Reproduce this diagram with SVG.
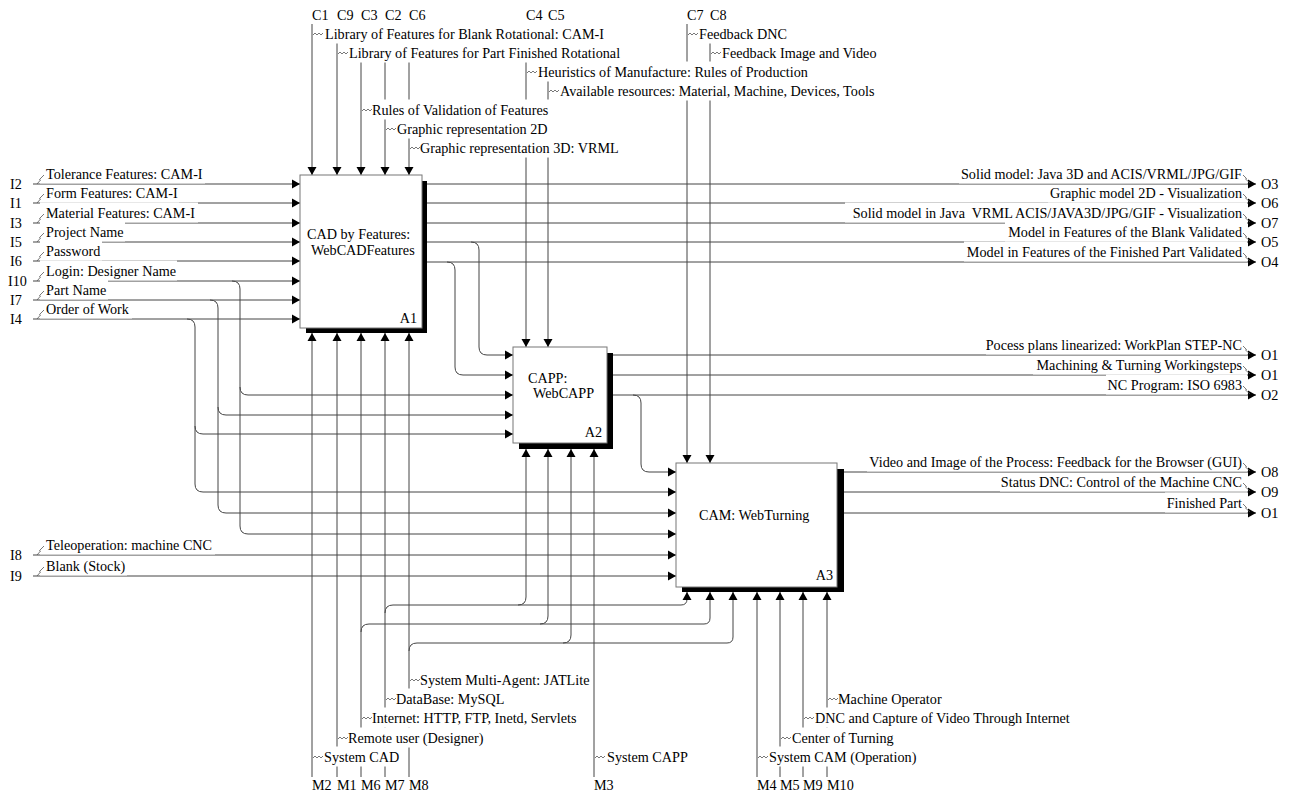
<svg xmlns="http://www.w3.org/2000/svg" width="1292" height="796" viewBox="0 0 1292 796">
<style>
.ln{fill:none;stroke:#444;stroke-width:1}
.sq{fill:none;stroke:#555;stroke-width:0.8}
.t{font-family:"Liberation Serif","Times New Roman",serif;font-size:14.2px;fill:#000}
.e{text-anchor:end}
.bg{fill:#fff}
.box{fill:#fff;stroke:#777;stroke-width:1}
.sh{fill:#000}
</style>
<defs>
<marker id="ah" markerUnits="userSpaceOnUse" markerWidth="8" markerHeight="10" viewBox="0 0 8 10" refX="8" refY="5" orient="auto"><path d="M0,0.5L8,5L0,9.5z" fill="#000"/></marker>
</defs>
<rect width="1292" height="796" fill="#fff"/>

<g id="connectors" class="ln" marker-end="url(#ah)">
<!-- inputs to A1 -->
<path d="M33,184H300"/><path d="M33,203H300"/><path d="M33,223H300"/><path d="M33,242H300"/>
<path d="M33,261H300"/><path d="M33,281H300"/><path d="M33,300H300"/><path d="M33,319H300"/>
<!-- branches of I10, I7, I4 -->
<path d="M232,281Q240,281 240,289V526Q240,534 248,534H676"/>
<path d="M240,387Q240,395 248,395H513"/>
<path d="M210,300Q218,300 218,308V505Q218,513 226,513H676"/>
<path d="M218,407Q218,415 226,415H513"/>
<path d="M187,319Q195,319 195,327V484Q195,492 203,492H676"/>
<path d="M195,426Q195,434 203,434H513"/>
<path d="M33,555H676"/><path d="M33,576H676"/>
<!-- A1 outputs -->
<path d="M427,184H1256"/><path d="M427,203H1256"/><path d="M427,223H1256"/><path d="M427,242H1256"/><path d="M427,262H1256"/>
<path d="M471,242Q479,242 479,250V347Q479,355 487,355H513"/>
<path d="M447,262Q455,262 455,270V367Q455,375 463,375H513"/>
<!-- A2 outputs -->
<path d="M612,355H1256"/><path d="M612,375H1256"/><path d="M612,395H1256"/>
<path d="M633,395Q641,395 641,403V464Q641,472 649,472H676"/>
<!-- A3 outputs -->
<path d="M843,472H1256"/><path d="M843,492H1256"/><path d="M843,513H1256"/>
<!-- controls -->
<path d="M312,24V175"/><path d="M337,24V175"/><path d="M361,24V175"/><path d="M385,24V175"/><path d="M409,24V175"/>
<path d="M526,24V347"/><path d="M548,24V347"/>
<path d="M687,24V463"/><path d="M710,24V463"/>
<!-- mechanisms -->
<path d="M312,777V333"/><path d="M337,777V333"/><path d="M361,777V333"/><path d="M385,777V333"/><path d="M409,777V333"/>
<path d="M594,777V449"/>
<path d="M757,777V592"/><path d="M780,777V592"/><path d="M803,777V592"/><path d="M827,777V592"/>
<path d="M385,613Q385,605 393,605H518Q526,605 526,597V449"/>
<path d="M518,605H681Q687,605 687,599V592"/>
<path d="M361,632Q361,624 369,624H540Q548,624 548,616V449"/>
<path d="M540,624H704Q710,624 710,618V592"/>
<path d="M409,651Q409,643 417,643H563Q571,643 571,635V449"/>
<path d="M563,643H727Q733,643 733,637V592"/>
</g>

<g id="labels">
<!-- control labels -->
<g><rect class="bg" x="313" y="23.5" width="293" height="20"/><path class="sq" d="M313,35l2,-2l2,2l2,-2l2,2l2,-2"/><text class="t" x="325" y="39">Library of Features for Blank Rotational: CAM-I</text></g>
<g><rect class="bg" x="338" y="42.5" width="283" height="20"/><path class="sq" d="M338,54l2,-2l2,2l2,-2l2,2l2,-2"/><text class="t" x="349" y="58">Library of Features for Part Finished Rotational</text></g>
<g><rect class="bg" x="527" y="61.5" width="283" height="20"/><path class="sq" d="M527,73l2,-2l2,2l2,-2l2,2l2,-2"/><text class="t" x="538" y="77">Heuristics of Manufacture: Rules of Production</text></g>
<g><rect class="bg" x="549" y="80.5" width="330" height="20"/><path class="sq" d="M549,92l2,-2l2,2l2,-2l2,2l2,-2"/><text class="t" x="560" y="96">Available resources: Material, Machine, Devices, Tools</text></g>
<g><rect class="bg" x="362" y="99.5" width="191" height="20"/><path class="sq" d="M362,111l2,-2l2,2l2,-2l2,2l2,-2"/><text class="t" x="372" y="115">Rules of Validation of Features</text></g>
<g><rect class="bg" x="386" y="118.5" width="166" height="20"/><path class="sq" d="M386,130l2,-2l2,2l2,-2l2,2l2,-2"/><text class="t" x="397" y="134">Graphic representation 2D</text></g>
<g><rect class="bg" x="410" y="137.5" width="211" height="20"/><path class="sq" d="M410,149l2,-2l2,2l2,-2l2,2l2,-2"/><text class="t" x="420" y="153">Graphic representation 3D: VRML</text></g>
<g><rect class="bg" x="688" y="23.5" width="102" height="20"/><path class="sq" d="M688,35l2,-2l2,2l2,-2l2,2l2,-2"/><text class="t" x="699" y="39">Feedback DNC</text></g>
<g><rect class="bg" x="711" y="42.5" width="170" height="20"/><path class="sq" d="M711,54l2,-2l2,2l2,-2l2,2l2,-2"/><text class="t" x="722" y="58">Feedback Image and Video</text></g>

<!-- mechanism labels -->
<g><rect class="bg" x="410" y="669.5" width="183" height="20"/><path class="sq" d="M410,681l2,-2l2,2l2,-2l2,2l2,-2"/><text class="t" x="420" y="685">System Multi-Agent: JATLite</text></g>
<g><rect class="bg" x="386" y="688.5" width="120" height="20"/><path class="sq" d="M386,700l2,-2l2,2l2,-2l2,2l2,-2"/><text class="t" x="396" y="704">DataBase: MySQL</text></g>
<g><rect class="bg" x="362" y="707.5" width="220" height="20"/><path class="sq" d="M362,719l2,-2l2,2l2,-2l2,2l2,-2"/><text class="t" x="372" y="723">Internet: HTTP, FTP, Inetd, Servlets</text></g>
<g><rect class="bg" x="338" y="727.5" width="148" height="20"/><path class="sq" d="M338,739l2,-2l2,2l2,-2l2,2l2,-2"/><text class="t" x="348" y="743">Remote user (Designer)</text></g>
<g><rect class="bg" x="313" y="746.5" width="89" height="20"/><path class="sq" d="M313,758l2,-2l2,2l2,-2l2,2l2,-2"/><text class="t" x="324" y="762">System CAD</text></g>
<g><rect class="bg" x="595" y="746.5" width="95" height="20"/><path class="sq" d="M595,758l2,-2l2,2l2,-2l2,2l2,-2"/><text class="t" x="607" y="762">System CAPP</text></g>
<g><rect class="bg" x="828" y="688.5" width="116" height="20"/><path class="sq" d="M828,700l2,-2l2,2l2,-2l2,2l2,-2"/><text class="t" x="838" y="704">Machine Operator</text></g>
<g><rect class="bg" x="804" y="707.5" width="270" height="20"/><path class="sq" d="M804,719l2,-2l2,2l2,-2l2,2l2,-2"/><text class="t" x="815" y="723">DNC and Capture of Video Through Internet</text></g>
<g><rect class="bg" x="781" y="727.5" width="116" height="20"/><path class="sq" d="M781,739l2,-2l2,2l2,-2l2,2l2,-2"/><text class="t" x="792" y="743">Center of Turning</text></g>
<g><rect class="bg" x="758" y="746.5" width="160" height="20"/><path class="sq" d="M758,758l2,-2l2,2l2,-2l2,2l2,-2"/><text class="t" x="769" y="762">System CAM (Operation)</text></g>

<!-- input labels -->
<g><rect class="bg" x="40" y="163.5" width="165" height="20"/><path class="sq" d="M37,184L40.5,180L39.5,179.5L44,175"/><text class="t" x="46" y="179">Tolerance Features: CAM-I</text></g>
<g><rect class="bg" x="40" y="185" width="139" height="17.5"/><path class="sq" d="M37,203L40.5,199L39.5,198.5L44,194"/><text class="t" x="46" y="198">Form Features: CAM-I</text></g>
<g><rect class="bg" x="40" y="202.5" width="158" height="20"/><path class="sq" d="M37,223L40.5,219L39.5,218.5L44,214"/><text class="t" x="46" y="218">Material Features: CAM-I</text></g>
<g><rect class="bg" x="40" y="221.5" width="85" height="20"/><path class="sq" d="M37,242L40.5,238L39.5,237.5L44,233"/><text class="t" x="46" y="237">Project Name</text></g>
<g><rect class="bg" x="40" y="240.5" width="62" height="20"/><path class="sq" d="M37,261L40.5,257L39.5,256.5L44,252"/><text class="t" x="46" y="256">Password</text></g>
<g><rect class="bg" x="40" y="260.5" width="137" height="20"/><path class="sq" d="M37,281L40.5,277L39.5,276.5L44,272"/><text class="t" x="46" y="276">Login: Designer Name</text></g>
<g><rect class="bg" x="40" y="279.5" width="68" height="20"/><path class="sq" d="M37,300L40.5,296L39.5,295.5L44,291"/><text class="t" x="46" y="295">Part Name</text></g>
<g><rect class="bg" x="40" y="301" width="92" height="17.5"/><path class="sq" d="M37,319L40.5,315L39.5,314.5L44,310"/><text class="t" x="46" y="314">Order of Work</text></g>
<g><rect class="bg" x="40" y="534.5" width="175" height="20"/><path class="sq" d="M37,555L40.5,551L39.5,550.5L44,546"/><text class="t" x="46" y="550">Teleoperation: machine CNC</text></g>
<g><rect class="bg" x="40" y="558" width="87" height="17.5"/><path class="sq" d="M37,576L40.5,572L39.5,571.5L44,567"/><text class="t" x="46" y="571">Blank (Stock)</text></g>

<!-- output labels -->
<g><rect class="bg" x="959" y="163.5" width="288" height="20"/><path class="sq" d="M1243,175L1246.5,178.5L1245.5,179L1250,183"/><text class="t e" x="1242" y="179">Solid model: Java 3D and ACIS/VRML/JPG/GIF</text></g>
<g><rect class="bg" x="1048" y="185" width="199" height="17.5"/><path class="sq" d="M1243,194L1246.5,197.5L1245.5,198L1250,202"/><text class="t e" x="1242" y="198">Graphic model 2D - Visualization</text></g>
<g><rect class="bg" x="845" y="202.5" width="402" height="20"/><path class="sq" d="M1243,214L1246.5,217.5L1245.5,218L1250,222"/><text class="t e" x="1242" y="218">Solid model in Java&#160; VRML ACIS/JAVA3D/JPG/GIF - Visualization</text></g>
<g><rect class="bg" x="1005" y="221.5" width="242" height="20"/><path class="sq" d="M1243,233L1246.5,236.5L1245.5,237L1250,241"/><text class="t e" x="1242" y="237">Model in Features of the Blank Validated</text></g>
<g><rect class="bg" x="964" y="241.5" width="283" height="20"/><path class="sq" d="M1243,253L1246.5,256.5L1245.5,257L1250,261"/><text class="t e" x="1242" y="257">Model in Features of the Finished Part Validated</text></g>
<g><rect class="bg" x="986" y="334.5" width="261" height="20"/><path class="sq" d="M1243,346L1246.5,349.5L1245.5,350L1250,354"/><text class="t e" x="1242" y="350">Pocess plans linearized: WorkPlan STEP-NC</text></g>
<g><rect class="bg" x="1033" y="357" width="214" height="17.5"/><path class="sq" d="M1243,366L1246.5,369.5L1245.5,370L1250,374"/><text class="t e" x="1242" y="370">Machining &amp; Turning Workingsteps</text></g>
<g><rect class="bg" x="1106" y="374.5" width="141" height="20"/><path class="sq" d="M1243,386L1246.5,389.5L1245.5,390L1250,394"/><text class="t e" x="1242" y="390">NC Program: ISO 6983</text></g>
<g><rect class="bg" x="867" y="451.5" width="380" height="20"/><path class="sq" d="M1243,463L1246.5,466.5L1245.5,467L1250,471"/><text class="t e" x="1242" y="467">Video and Image of the Process: Feedback for the Browser (GUI)</text></g>
<g><rect class="bg" x="1000" y="474" width="247" height="17.5"/><path class="sq" d="M1243,483L1246.5,486.5L1245.5,487L1250,491"/><text class="t e" x="1242" y="487">Status DNC: Control of the Machine CNC</text></g>
<g><rect class="bg" x="1165" y="492.5" width="82" height="20"/><path class="sq" d="M1243,504L1246.5,507.5L1245.5,508L1250,512"/><text class="t e" x="1242" y="508">Finished Part</text></g>

<!-- boundary IDs -->
<g class="t">
<text x="312" y="20">C1</text><text x="337" y="20">C9</text><text x="361" y="20">C3</text><text x="385" y="20">C2</text><text x="409" y="20">C6</text>
<text x="526" y="20">C4</text><text x="548" y="20">C5</text><text x="687" y="20">C7</text><text x="710" y="20">C8</text>
<text x="312" y="790">M2</text><text x="337" y="790">M1</text><text x="361" y="790">M6</text><text x="385" y="790">M7</text><text x="409" y="790">M8</text>
<text x="594" y="790">M3</text><text x="757" y="790">M4</text><text x="780" y="790">M5</text><text x="803" y="790">M9</text><text x="827" y="790">M10</text>
<text x="10" y="189">I2</text><text x="10" y="208">I1</text><text x="10" y="228">I3</text><text x="10" y="247">I5</text>
<text x="10" y="266">I6</text><text x="8" y="286">I10</text><text x="10" y="305">I7</text><text x="10" y="324">I4</text>
<text x="10" y="560">I8</text><text x="10" y="581">I9</text>
<text x="1261" y="189">O3</text><text x="1261" y="208">O6</text><text x="1261" y="228">O7</text><text x="1261" y="247">O5</text><text x="1261" y="267">O4</text>
<text x="1261" y="360">O1</text><text x="1261" y="380">O1</text><text x="1261" y="400">O2</text>
<text x="1261" y="477">O8</text><text x="1261" y="497">O9</text><text x="1261" y="518">O1</text>
</g>
</g>

<g id="A1">
<rect class="sh" x="422" y="181" width="5" height="152"/><rect class="sh" x="306" y="328" width="121" height="5"/>
<rect class="box" x="300" y="175" width="122" height="153"/>
<text class="t" x="307" y="239">CAD by Features:</text>
<text class="t" x="311" y="255">WebCADFeatures</text>
<text class="t e" x="417" y="323">A1</text>
</g>
<g id="A2">
<rect class="sh" x="607" y="353" width="6" height="96"/><rect class="sh" x="519" y="443" width="94" height="6"/>
<rect class="box" x="513" y="347" width="94" height="96"/>
<text class="t" x="528" y="383">CAPP:</text>
<text class="t" x="533" y="398">WebCAPP</text>
<text class="t e" x="602" y="437">A2</text>
</g>
<g id="A3">
<rect class="sh" x="837" y="469" width="7" height="123"/><rect class="sh" x="682" y="587" width="162" height="5"/>
<rect class="box" x="676" y="463" width="161" height="124"/>
<text class="t" x="699" y="520">CAM: WebTurning</text>
<text class="t e" x="833" y="580">A3</text>
</g>
</svg>
